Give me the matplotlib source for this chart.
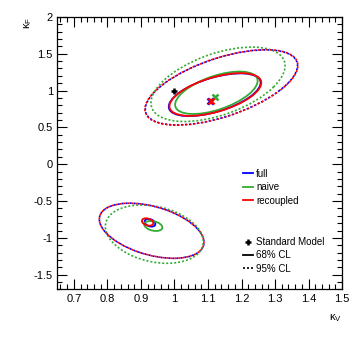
import numpy as np
import matplotlib
matplotlib.use("Agg")
import matplotlib.pyplot as plt
from matplotlib.patches import Ellipse
from matplotlib.lines import Line2D
from matplotlib.ticker import MultipleLocator

plt.rcParams['font.family'] = ['Liberation Sans', 'DejaVu Sans']
plt.rcParams['mathtext.fontset'] = 'custom'
plt.rcParams['mathtext.rm'] = 'Liberation Sans'
plt.rcParams['mathtext.it'] = 'Liberation Sans'

# contour ellipses: (centre x, centre y, half extent x, half extent y, correlation)
full_68 = [(1.120, 0.944, 0.137, 0.290, 0.56), (0.927, -0.795, 0.016, 0.052, -0.30)]
full_95 = [(1.140, 1.043, 0.227, 0.510, 0.58), (0.932, -0.903, 0.156, 0.374, -0.42)]
naive_68 = [(1.125, 0.970, 0.123, 0.288, 0.56), (0.937, -0.838, 0.027, 0.068, -0.30)]
naive_95 = [(1.130, 1.085, 0.200, 0.505, 0.50), (0.940, -0.949, 0.146, 0.396, -0.26)]
recoupled_68 = [(1.122, 0.946, 0.137, 0.290, 0.55), (0.920, -0.784, 0.017, 0.050, -0.30)]
recoupled_95 = [(1.140, 1.043, 0.228, 0.512, 0.58), (0.932, -0.903, 0.156, 0.374, -0.42)]

best_fit = {'full': (1.107, 0.862), 'naive': (1.121, 0.910), 'recoupled': (1.109, 0.865)}
sm_point = (1.0, 1.0)

colors = {'full': '#0000ff', 'naive': '#33aa33', 'recoupled': '#ff0000'}
dots = (1.2, 1.2)


def ellipse_patch(cx, cy, rx, ry, rho, **kw):
    cov = np.array([[rx**2, rho*rx*ry], [rho*rx*ry, ry**2]])
    vals, vecs = np.linalg.eigh(cov)
    angle = np.degrees(np.arctan2(vecs[1, 1], vecs[0, 1]))
    return Ellipse((cx, cy), 2*np.sqrt(vals[1]), 2*np.sqrt(vals[0]),
                   angle=angle, fill=False, **kw)


fig = plt.figure(figsize=(3.59, 3.45), dpi=100)
ax = fig.add_axes([0.159, 0.161, 0.794, 0.790])

sets = [('full', full_68, full_95, 0), ('naive', naive_68, naive_95, 0),
        ('recoupled', recoupled_68, recoupled_95, 1.2)]
for name, c68, c95, off in sets:
    col = colors[name]
    for e in c95:
        ax.add_patch(ellipse_patch(*e, edgecolor=col, lw=1.2,
                                   linestyle=(off, dots)))
    for e in c68:
        ax.add_patch(ellipse_patch(*e, edgecolor=col, lw=1.3))

for name in ['full', 'naive', 'recoupled']:
    ax.plot(*best_fit[name], marker='x', color=colors[name], ms=5, mew=1.8)
ax.plot(*sm_point, marker='+', color='black', ms=5, mew=1.8)

ax.set_xlim(0.65, 1.5)
ax.set_ylim(-1.7, 2.0)
ax.xaxis.set_minor_locator(MultipleLocator(0.02))
ax.yaxis.set_minor_locator(MultipleLocator(0.1))
ax.set_xticks([0.7, 0.8, 0.9, 1.0, 1.1, 1.2, 1.3, 1.4, 1.5])
ax.set_xticklabels(['0.7', '0.8', '0.9', '1', '1.1', '1.2', '1.3', '1.4', '1.5'])
ax.set_yticks([-1.5, -1, -0.5, 0, 0.5, 1, 1.5, 2])
ax.set_yticklabels(['-1.5', '-1', '-0.5', '0', '0.5', '1', '1.5', '2'])
ax.tick_params(which='both', direction='in', top=True, right=True,
               labelsize=8, width=0.8)
ax.tick_params(which='major', length=7, pad=3)
ax.tick_params(which='minor', length=3.5)
for s in ax.spines.values():
    s.set_linewidth(0.9)

ax.set_xlabel(r'$\kappa_V$', loc='right', fontsize=8, labelpad=6)
ax.set_ylabel(r'$\kappa_F$', loc='top', fontsize=8, labelpad=0)

h1 = [Line2D([], [], color=colors[n], lw=1.3) for n in ['full', 'naive', 'recoupled']]
leg1 = ax.legend(h1, ['full', 'naive', 'recoupled'], loc='upper left',
                 bbox_to_anchor=(0.64, 0.457), frameon=False, fontsize=7,
                 handlelength=1.0, handletextpad=0.3, labelspacing=0.35,
                 borderaxespad=0)
ax.add_artist(leg1)
h2 = [Line2D([], [], color='black', marker='+', ms=5, mew=1.8, ls='none'),
      Line2D([], [], color='black', lw=1.3),
      Line2D([], [], color='black', lw=1.2, ls=(0, dots))]
ax.legend(h2, ['Standard Model', '68% CL', '95% CL'], loc='upper left',
          bbox_to_anchor=(0.64, 0.207), frameon=False, fontsize=7,
          handlelength=1.0, handletextpad=0.3, labelspacing=0.35,
          borderaxespad=0)

fig.savefig('out.png', dpi=100)
